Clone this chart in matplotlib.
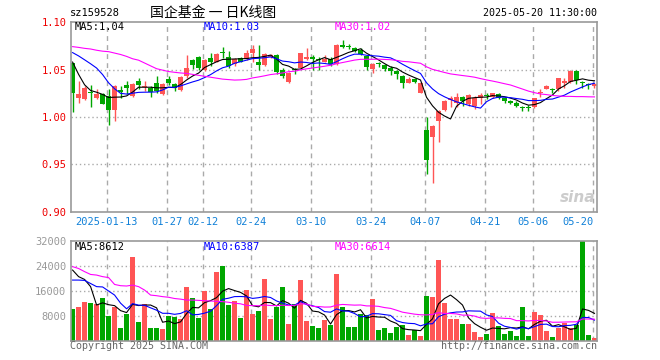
import numpy as np
import pandas as pd
import matplotlib
matplotlib.use('Agg')
import matplotlib.pyplot as plt

# 交易日 (2025)
dates = ['01-03', '01-06', '01-07', '01-08', '01-09', '01-10', '01-13', '01-14', '01-15', '01-16',
         '01-17', '01-20', '01-21', '01-22', '01-23', '01-24', '01-27',
         '02-05', '02-06', '02-07', '02-10', '02-11', '02-12', '02-13', '02-14', '02-17', '02-18',
         '02-19', '02-20', '02-21', '02-24', '02-25', '02-26', '02-27', '02-28',
         '03-03', '03-04', '03-05', '03-06', '03-07', '03-10', '03-11', '03-12', '03-13', '03-14',
         '03-17', '03-18', '03-19', '03-20', '03-21', '03-24', '03-25', '03-26', '03-27', '03-28', '03-31',
         '04-01', '04-02', '04-03', '04-07', '04-08', '04-09', '04-10', '04-11', '04-14', '04-15',
         '04-16', '04-17', '04-18', '04-21', '04-22', '04-23', '04-24', '04-25', '04-28', '04-29', '04-30',
         '05-06', '05-07', '05-08', '05-09', '05-12', '05-13', '05-14', '05-15', '05-16', '05-19', '05-20']

opens = [1.0569, 1.0205, 1.0187, 1.0264, 1.0205, 1.0239, 1.0222, 1.0076, 1.0284, 1.0333,
         1.0222, 1.0378, 1.0316, 1.0309, 1.0361, 1.0239, 1.0402, 1.0344, 1.0285, 1.0430,
         1.0597, 1.0638, 1.0493, 1.0621, 1.0586, 1.0680, 1.0632, 1.0562, 1.0625, 1.0611,
         1.0680, 1.0586, 1.0552, 1.0638, 1.0656, 1.0493, 1.0368, 1.0507, 1.0517, 1.0611,
         1.0638, 1.0611, 1.0586, 1.0611, 1.0555, 1.0760, 1.0743, 1.0732, 1.0708, 1.0645,
         1.0507, 1.0562, 1.0552, 1.0517, 1.0482, 1.0437, 1.0361, 1.0403, 1.0257, 0.9868,
         0.9788, 0.9962, 1.0076, 1.0180, 1.0153, 1.0212, 1.0135, 1.0111, 1.0205, 1.0222,
         1.0215, 1.0246, 1.0205, 1.0170, 1.0153, 1.0094, 1.0097, 1.0101, 1.0250, 1.0298,
         1.0288, 1.0291, 1.0361, 1.0368, 1.0486, 1.0361, 1.0344, 1.0326]
highs = [1.0570, 1.0378, 1.0326, 1.0333, 1.0291, 1.0257, 1.0291, 1.0333, 1.0326, 1.0378,
         1.0361, 1.0413, 1.0378, 1.0326, 1.0437, 1.0361, 1.0430, 1.0361, 1.0437, 1.0656,
         1.0611, 1.0645, 1.0611, 1.0680, 1.0680, 1.0743, 1.0701, 1.0621, 1.0632, 1.0708,
         1.0760, 1.0760, 1.0673, 1.0666, 1.0666, 1.0517, 1.0472, 1.0517, 1.0680, 1.0725,
         1.0656, 1.0638, 1.0656, 1.0638, 1.0770, 1.0812, 1.0770, 1.0743, 1.0725, 1.0656,
         1.0569, 1.0586, 1.0562, 1.0534, 1.0500, 1.0448, 1.0423, 1.0413, 1.0368, 0.9997,
         0.9917, 1.0076, 1.0180, 1.0222, 1.0257, 1.0222, 1.0239, 1.0222, 1.0257, 1.0250,
         1.0257, 1.0257, 1.0215, 1.0180, 1.0170, 1.0118, 1.0125, 1.0205, 1.0291, 1.0333,
         1.0309, 1.0413, 1.0413, 1.0500, 1.0493, 1.0378, 1.0361, 1.0361]
lows = [1.0049, 1.0153, 1.0180, 1.0101, 1.0194, 1.0135, 0.9917, 0.9962, 1.0205, 1.0239,
        1.0215, 1.0291, 1.0274, 1.0215, 1.0257, 1.0229, 1.0333, 1.0274, 1.0274, 1.0413,
        1.0507, 1.0500, 1.0482, 1.0534, 1.0576, 1.0621, 1.0517, 1.0541, 1.0576, 1.0597,
        1.0586, 1.0500, 1.0541, 1.0621, 1.0458, 1.0413, 1.0361, 1.0458, 1.0507, 1.0604,
        1.0500, 1.0500, 1.0576, 1.0541, 1.0545, 1.0725, 1.0715, 1.0690, 1.0656, 1.0500,
        1.0465, 1.0527, 1.0489, 1.0448, 1.0403, 1.0309, 1.0354, 1.0354, 1.0250, 0.9396,
        0.9303, 0.9736, 1.0066, 1.0101, 1.0101, 1.0111, 1.0118, 1.0083, 1.0135, 1.0187,
        1.0205, 1.0187, 1.0153, 1.0135, 1.0101, 1.0066, 1.0066, 1.0094, 1.0215, 1.0291,
        1.0250, 1.0274, 1.0309, 1.0361, 1.0344, 1.0309, 1.0291, 1.0309]
closes = [1.0257, 1.0239, 1.0309, 1.0257, 1.0246, 1.0142, 1.0076, 1.0326, 1.0264, 1.0305,
          1.0344, 1.0333, 1.0326, 1.0264, 1.0274, 1.0344, 1.0361, 1.0309, 1.0423, 1.0517,
          1.0552, 1.0517, 1.0604, 1.0576, 1.0666, 1.0673, 1.0534, 1.0614, 1.0586, 1.0680,
          1.0715, 1.0552, 1.0666, 1.0656, 1.0472, 1.0430, 1.0465, 1.0493, 1.0673, 1.0638,
          1.0611, 1.0604, 1.0611, 1.0562, 1.0760, 1.0736, 1.0740, 1.0701, 1.0666, 1.0527,
          1.0562, 1.0559, 1.0507, 1.0489, 1.0458, 1.0361, 1.0403, 1.0371, 1.0361, 0.9545,
          0.9910, 1.0066, 1.0170, 1.0205, 1.0212, 1.0170, 1.0229, 1.0205, 1.0229, 1.0219,
          1.0250, 1.0205, 1.0170, 1.0153, 1.0118, 1.0090, 1.0094, 1.0201, 1.0257, 1.0326,
          1.0284, 1.0410, 1.0375, 1.0482, 1.0389, 1.0358, 1.0340, 1.0344]
volumes = [10133, 10880, 12373, 12053, 11627, 13653, 7893, 10880, 4053, 8533,
           26773, 5973, 11733, 4053, 4053, 3733, 7893, 7573, 6933, 17173,
           13653, 7253, 15893, 10133, 21973, 24000, 11413, 12693, 7253, 16213,
           8533, 9493, 19733, 6933, 10880, 17173, 5333, 11733, 19413, 6293,
           4693, 4053, 6613, 5013, 21333, 10880, 4373, 4373, 8533, 8213,
           13333, 3413, 4053, 2453, 4373, 5013, 1813, 3413, 1493, 14293,
           13973, 25813, 12053, 6933, 6933, 5333, 5333, 2773, 1173, 2133,
           8853, 4693, 2133, 3093, 1493, 10773, 1493, 9173, 8213, 3093,
           1173, 4053, 5653, 4053, 5013, 32000, 1813, 853]

# 均线在窗口之前的部分
ma5_head = [1.058, 1.045, 1.034, 1.028]
ma10_head = [1.068, 1.0645, 1.0604, 1.0562, 1.0517, 1.0448, 1.0361, 1.0298, 1.025]
ma30_head = [1.0743, 1.0735, 1.0725, 1.0718, 1.0705, 1.0695, 1.069, 1.0675, 1.066, 1.064,
             1.0615, 1.060, 1.057, 1.054, 1.051, 1.0495, 1.048, 1.0472, 1.0465, 1.046,
             1.045, 1.044, 1.043, 1.042, 1.041, 1.040, 1.0395, 1.039, 1.0392]
vma5_head = [22600, 20500, 19600, 17300]
vma10_head = [19400, 19400, 19300, 18300, 17300, 17200, 15900, 14600, 12000]
vma30_head = [23700, 23100, 22100, 21200, 21000, 20500, 20200, 18000, 17600, 17500,
              17800, 17300, 16200, 14600, 14400, 14100, 13900, 13500, 13300, 13000,
              13000, 12900, 12800, 12700, 12600, 12500, 12300, 12000, 11800]

tick_dates = ['01-13', '01-27', '02-12', '02-24', '03-10', '03-24', '04-07', '04-21', '05-06', '05-20']
price_ticks = [0.90, 0.95, 1.00, 1.05, 1.10]
vol_ticks = [8000, 16000, 24000, 32000]

RED = '#FF5555'
GREEN = '#00A600'
GRID = '#AAAAAA'
FS = 7.2

plt.rcParams['font.family'] = ['DejaVu Sans Mono', 'Noto Sans CJK SC']


def with_head(values, n, head):
    out = pd.Series(values).rolling(n).mean().to_numpy()
    out[:len(head)] = head
    return out


W, H = 660, 360


def box(x0, y0, x1, y1):
    return [x0 / W, 1 - y1 / H, (x1 - x0) / W, (y1 - y0) / H]


def ftext(x, y, s, **kw):
    fig.text(x / W, 1 - y / H, s, va='center', **kw)


fig = plt.figure(figsize=(6.6, 3.6), dpi=100)
ax = fig.add_axes(box(70.5, 22.3, 597.3, 211.7))
axv = fig.add_axes(box(70.5, 240.7, 597.3, 340.7))

x = np.arange(len(closes))
o, h, l, c = map(np.array, (opens, highs, lows, closes))
colors = np.where(c >= o, RED, GREEN)

grid_x = [dates.index(d) - 0.3 for d in tick_dates]

for a in (ax, axv):
    a.set_xlim(-0.35, len(closes) - 0.53)
    for gx in grid_x:
        a.axvline(gx, color=GRID, lw=1, ls=(0, (3.5, 3)), zorder=0)
    for s in a.spines.values():
        s.set_color('#999999')
        s.set_linewidth(1.2)
    a.set_xticks([])

# K线
ax.vlines(x, l, h, colors=colors, lw=1, zorder=2)
ax.bar(x, np.maximum(np.abs(c - o), 0.0011), bottom=np.minimum(o, c),
       width=0.82, color=colors, linewidth=0, zorder=2)

ax.plot(x, with_head(closes, 5, ma5_head), color='black', lw=0.8, zorder=3)
ax.plot(x, with_head(closes, 10, ma10_head), color='#0000FF', lw=0.8, zorder=3)
ax.plot(x, with_head(closes, 30, ma30_head), color='#FF00FF', lw=0.8, zorder=3)

ax.set_ylim(0.90, 1.10)
ax.set_yticks(price_ticks)
ax.set_yticklabels(['%.2f' % v for v in price_ticks])
ax.tick_params(axis='y', length=0, pad=3, labelcolor='#EE0000', labelsize=FS + 0.3)
for v in price_ticks[1:-1]:
    ax.axhline(v, color=GRID, lw=1, ls=(0, (1, 2)), zorder=0)

# 成交量
axv.bar(x, volumes, width=0.85, color=colors, linewidth=0, zorder=2)
axv.plot(x, with_head(volumes, 5, vma5_head), color='black', lw=0.8, zorder=3)
axv.plot(x, with_head(volumes, 10, vma10_head), color='#0000FF', lw=0.8, zorder=3)
axv.plot(x, with_head(volumes, 30, vma30_head), color='#FF00FF', lw=0.8, zorder=3)
axv.set_ylim(0, 32000)
axv.set_yticks(vol_ticks)
axv.set_yticklabels([str(v) for v in vol_ticks])
axv.tick_params(axis='y', length=0, pad=3, labelcolor='#999999', labelsize=FS + 0.3)
for v in vol_ticks[:-1]:
    axv.axhline(v, color=GRID, lw=1, ls=(0, (1, 2)), zorder=0)

# 日期标签
xcol = '#1080D8'
for i, (gx, d) in enumerate(zip(grid_x, tick_dates)):
    lab = '2025-' + d if i == 0 else d
    ha = 'right' if i == len(tick_dates) - 1 else 'center'
    ax.text(gx + (0.1 if ha == 'right' else 0), 0.90 - 0.0055, lab, ha=ha, va='top',
            color=xcol, fontsize=FS + 0.3)

ftext(70, 13, 'sz159528', ha='left', fontsize=FS + 0.3, color='black')
ftext(213, 13, '国企基金 一 日K线图', ha='center', fontsize=10, color='black',
      family=['Noto Sans CJK SC', 'DejaVu Sans'])
ftext(597, 13, '2025-05-20 11:30:00', ha='right', fontsize=FS, color='black')

ftext(75, 27, 'MA5:1.04', ha='left', fontsize=FS + 0.3, color='black')
ftext(204, 27, 'MA10:1.03', ha='left', fontsize=FS + 0.3, color='#0000FF')
ftext(334.5, 27, 'MA30:1.02', ha='left', fontsize=FS + 0.3, color='#FF00FF')

ftext(75, 247, 'MA5:8612', ha='left', fontsize=FS + 0.3, color='black')
ftext(204, 247, 'MA10:6387', ha='left', fontsize=FS + 0.3, color='#0000FF')
ftext(334.5, 247, 'MA30:6614', ha='left', fontsize=FS + 0.3, color='#FF00FF')

ftext(70, 346, 'Copyright 2025 SINA.COM', ha='left', fontsize=FS, color='#666666')
ftext(597, 346, 'http://finance.sina.com.cn', ha='right', fontsize=FS, color='#666666')

ftext(578, 197, 'sina', ha='center', fontsize=11, color='#CCCCCC',
      family='DejaVu Sans', weight='bold', style='italic')

fig.savefig('out.png', dpi=100)
